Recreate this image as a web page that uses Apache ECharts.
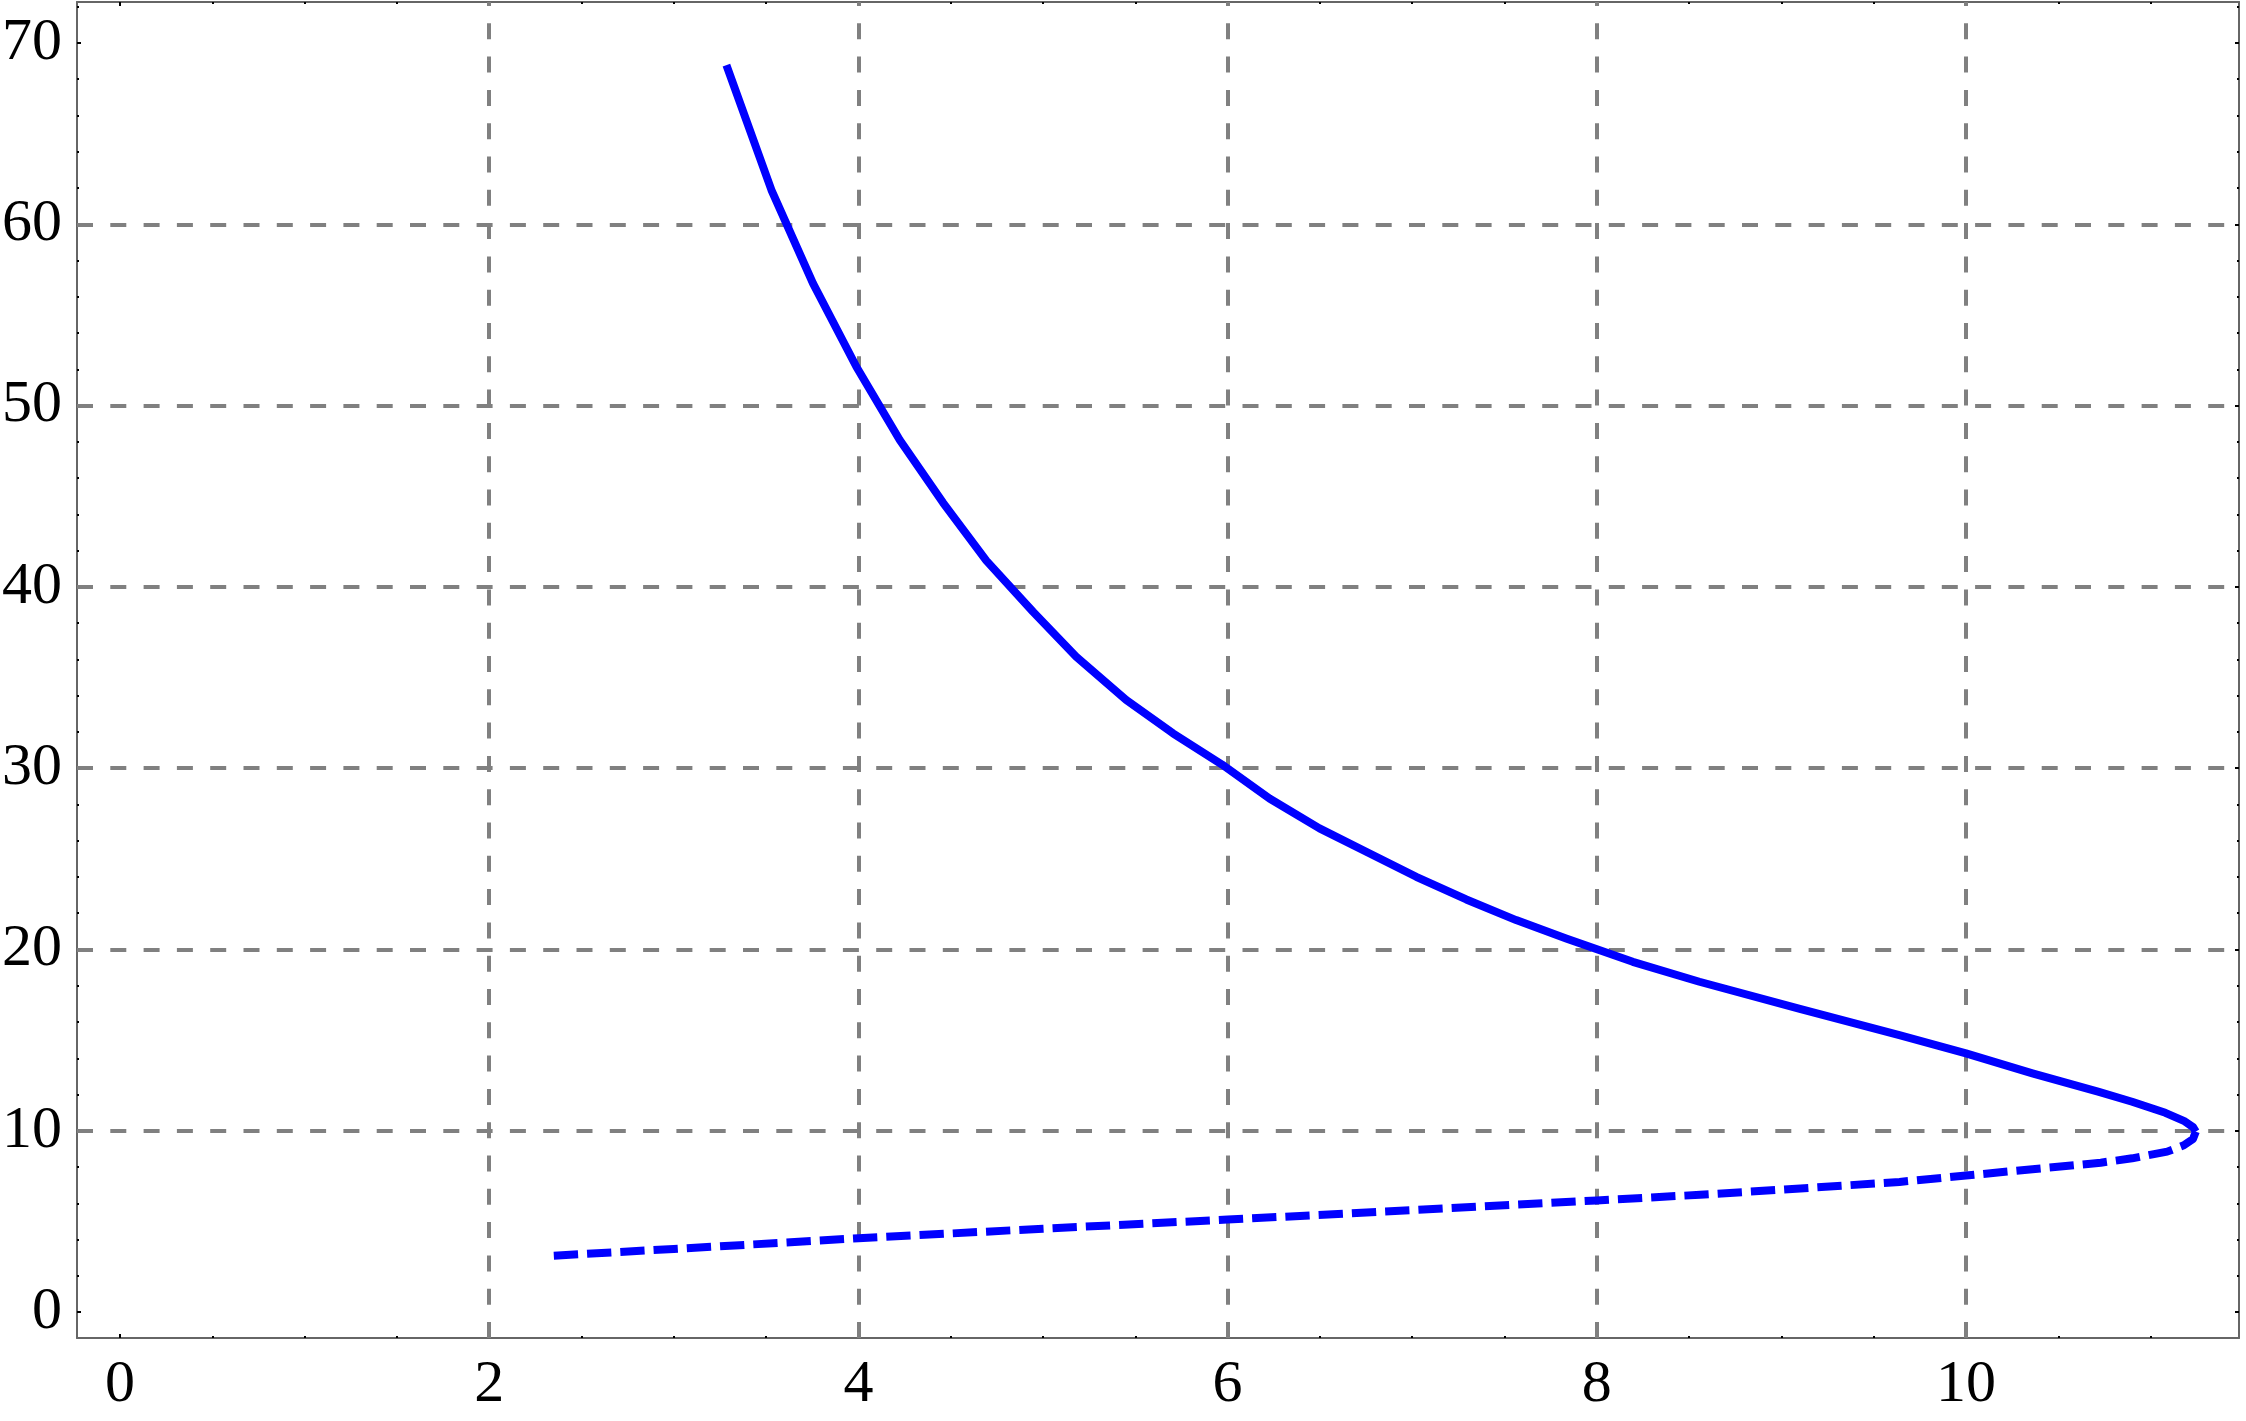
<!DOCTYPE html>
<html>
<head>
<meta charset="utf-8">
<script src="https://cdn.jsdelivr.net/npm/echarts@6/dist/echarts.min.js"></script>
<style>
html,body{margin:0;padding:0;background:#ffffff;}
#chart{width:2246px;height:1421px;}
</style>
</head>
<body>
<div id="chart"></div>
<script>
// ---- data ----
const xTickLabels = [0, 2, 4, 6, 8, 10];
const yTickLabels = [0, 10, 20, 30, 40, 50, 60, 70];
const xMinorTicks = [0, 0.5, 1, 1.5, 2, 2.5, 3, 3.5, 4, 4.5, 5, 5.5, 6, 6.5, 7, 7.5, 8, 8.5, 9, 9.5, 10, 10.5, 11];
const yMinorTicks = [0, 2, 4, 6, 8, 10, 12, 14, 16, 18, 20, 22, 24, 26, 28, 30, 32, 34, 36, 38, 40, 42, 44, 46, 48, 50, 52, 54, 56, 58, 60, 62, 64, 66, 68, 70, 72];
const gridX = [2, 4, 6, 8, 10];
const gridY = [10, 20, 30, 40, 50, 60];

// upper (solid) branch, polyline vertices
const upperX = [3.285, 3.529, 3.754, 3.989, 4.224, 4.458, 4.693, 4.946, 5.180, 5.451, 5.704, 5.970, 6.227, 6.498, 6.751, 7.022, 7.293, 7.563, 7.834, 8.195, 8.556, 9.100, 9.639, 10.000, 10.360, 10.720, 10.900, 11.080, 11.180, 11.230, 11.245];
const upperY = [68.78, 61.89, 56.74, 52.14, 48.10, 44.65, 41.45, 38.63, 36.15, 33.76, 31.92, 30.20, 28.33, 26.68, 25.39, 24.01, 22.76, 21.62, 20.61, 19.32, 18.22, 16.72, 15.28, 14.27, 13.17, 12.15, 11.60, 10.99, 10.55, 10.20, 9.95];

// lower (dashed) branch, drawn from its left end to the fold
const lowerX = [2.35, 3.00, 4.00, 5.00, 6.00, 7.00, 8.00, 8.56, 9.00, 9.64, 10.00, 10.36, 10.73, 10.90, 11.09, 11.18, 11.23, 11.245];
const lowerY = [3.11, 3.48, 4.07, 4.60, 5.10, 5.62, 6.16, 6.47, 6.75, 7.18, 7.53, 7.88, 8.24, 8.48, 8.85, 9.20, 9.55, 9.95];

// ---- axis ranges ----
const X_MIN = -0.233, X_MAX = 11.479;
const Y_MIN = -1.43, Y_MAX = 72.26;

const FRAME = '#666666';
const TICK = '#000000';
const FONT = 'Liberation Serif';

function xAxisDef(pos, ticks, len, showLine, showLabels) {
  return {
    type: 'value', position: pos, min: X_MIN, max: X_MAX,
    axisLine: {show: showLine, onZero: false, lineStyle: {color: FRAME, width: 2}},
    axisTick: {show: true, inside: true, length: len, customValues: ticks, lineStyle: {color: TICK, width: 2}},
    axisLabel: {show: showLabels, customValues: xTickLabels, margin: 17, fontFamily: FONT, fontSize: 60, color: '#000'},
    splitLine: {show: false}, minorTick: {show: false}, minorSplitLine: {show: false}
  };
}
function yAxisDef(pos, ticks, len, showLine, showLabels) {
  return {
    type: 'value', position: pos, min: Y_MIN, max: Y_MAX,
    axisLine: {show: showLine, onZero: false, lineStyle: {color: FRAME, width: 2}},
    axisTick: {show: true, inside: true, length: len, customValues: ticks, lineStyle: {color: TICK, width: 2}},
    axisLabel: {show: showLabels, customValues: yTickLabels, margin: 15, fontFamily: FONT, fontSize: 60, color: '#000'},
    splitLine: {show: false}, minorTick: {show: false}, minorSplitLine: {show: false}
  };
}

const chart = echarts.init(document.getElementById('chart'), null, {renderer: 'canvas', width: 2246, height: 1421});

const gridLines = gridX.map(v => ({xAxis: v})).concat(gridY.map(v => ({yAxis: v})));

chart.setOption({
  animation: false,
  backgroundColor: '#ffffff',
  grid: {left: 77, right: 7, top: 2, bottom: 83, containLabel: false, outerBoundsMode: 'none'},
  xAxis: [
    xAxisDef('bottom', xTickLabels, 4, true, true),
    xAxisDef('bottom', xMinorTicks, 2, false, false),
    xAxisDef('top', xTickLabels, 4, true, false),
    xAxisDef('top', xMinorTicks, 2, false, false)
  ],
  yAxis: [
    yAxisDef('left', yTickLabels, 4, true, true),
    yAxisDef('left', yMinorTicks, 2, false, false),
    yAxisDef('right', yTickLabels, 4, true, false),
    yAxisDef('right', yMinorTicks, 2, false, false)
  ],
  series: [
    {
      type: 'line', name: 'lower', xAxisIndex: 0, yAxisIndex: 0, z: 3,
      data: lowerX.map((x, i) => [x, lowerY[i]]),
      symbol: 'none', showSymbol: false, smooth: false, silent: true,
      lineStyle: {color: '#0000ff', width: 8, type: [24.3, 9], cap: 'butt', join: 'round'},
      markLine: {
        silent: true, z: 1, symbol: ['none', 'none'], animation: false,
        label: {show: false}, emphasis: {disabled: true},
        lineStyle: {color: '#808080', width: 4, type: [16, 17.3], cap: 'butt'},
        data: gridLines
      }
    },
    {
      type: 'line', name: 'upper', xAxisIndex: 0, yAxisIndex: 0, z: 3,
      data: upperX.map((x, i) => [x, upperY[i]]),
      symbol: 'none', showSymbol: false, smooth: false, silent: true,
      lineStyle: {color: '#0000ff', width: 8, type: 'solid', cap: 'butt', join: 'round'}
    }
  ]
});
</script>
</body>
</html>
